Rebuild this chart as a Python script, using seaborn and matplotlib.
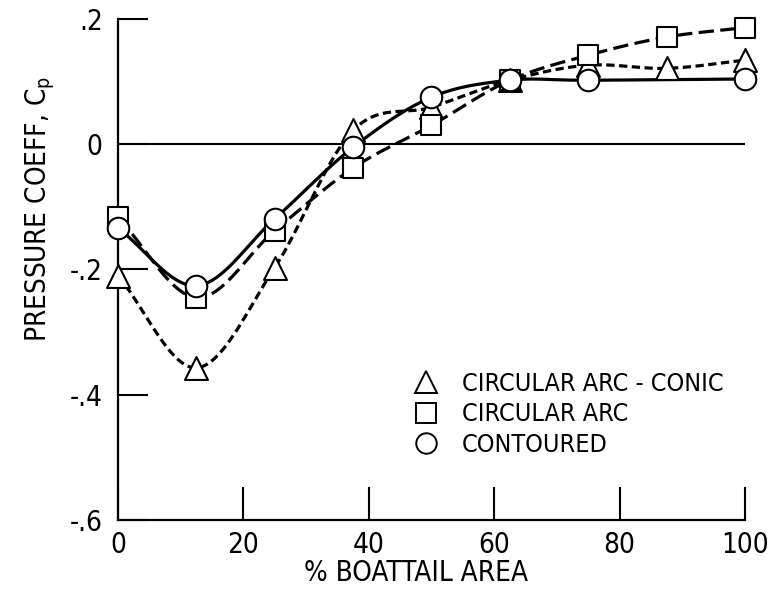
import numpy as np
import matplotlib
matplotlib.use("Agg")
import matplotlib.pyplot as plt
import seaborn as sns
from matplotlib.lines import Line2D

# Data
area_full = [0, 12.5, 25, 37.5, 50, 62.5, 75, 87.5, 100]
cp_conic = [-0.210, -0.357, -0.197, 0.022, 0.059, 0.102, 0.126, 0.121, 0.134]
cp_arc = [-0.117, -0.245, -0.138, -0.038, 0.030, 0.102, 0.142, 0.171, 0.186]
area_contoured = [0, 12.5, 25, 37.5, 50, 62.5, 75, 100]
cp_contoured = [-0.134, -0.226, -0.119, -0.005, 0.075, 0.102, 0.102, 0.104]

labels = ["CIRCULAR ARC - CONIC", "CIRCULAR ARC", "CONTOURED"]
x_ticks = [0, 20, 40, 60, 80, 100]
y_ticks = [0.2, 0, -0.2, -0.4, -0.6]
y_ticklabels = [".2", "0", "-.2", "-.4", "-.6"]


def faired(x, y, n=40):
    # Catmull-Rom fairing through the measured points (drawing only)
    p = np.column_stack([x, y]).astype(float)
    p = np.vstack([2 * p[0] - p[1], p, 2 * p[-1] - p[-2]])
    t = np.linspace(0, 1, n)[:, None]
    out = []
    for i in range(1, len(p) - 2):
        p0, p1, p2, p3 = p[i - 1], p[i], p[i + 1], p[i + 2]
        seg = 0.5 * ((2 * p1) + (-p0 + p2) * t
                     + (2 * p0 - 5 * p1 + 4 * p2 - p3) * t ** 2
                     + (-p0 + 3 * p1 - 3 * p2 + p3) * t ** 3)
        out.append(seg if i == 1 else seg[1:])
    out = np.vstack(out)
    return out[:, 0], out[:, 1]


sns.set_style("ticks")
plt.rcParams['font.family'] = ['DejaVu Sans']
plt.rcParams['font.stretch'] = 'condensed'
plt.rcParams['mathtext.default'] = 'regular'
plt.rcParams['text.color'] = 'black'
plt.rcParams['axes.labelcolor'] = 'black'
plt.rcParams['xtick.color'] = 'black'
plt.rcParams['ytick.color'] = 'black'

fig = plt.figure(figsize=(7.68, 5.89), dpi=100)
ax = fig.add_axes([0.1536, 0.117, 0.8164, 0.851])

series = [
    (area_full, cp_conic, "^", (0, (2.6, 1.4)), 16.5),
    (area_full, cp_arc, "s", (0, (4.8, 2.0)), 15),
    (area_contoured, cp_contoured, "o", "-", 15.5),
]

ax.axhline(0, color="black", lw=1.5, zorder=1)

for x, y, m, ls, ms in series:
    fx, fy = faired(x, y)
    ax.plot(fx, fy, color="black", lw=2.3, linestyle=ls, zorder=2,
            clip_on=False)

for (x, y, m, ls, ms) in series:
    sns.scatterplot(x=x, y=y, marker=m, s=ms ** 2, facecolor="white",
                    edgecolor="black", linewidth=1.5, ax=ax, zorder=3,
                    clip_on=False, legend=False)

ax.set_xlim(0, 100)
ax.set_ylim(-0.6, 0.2)
ax.set_xticks(x_ticks)
ax.set_yticks(y_ticks)
ax.set_yticklabels(y_ticklabels)
ax.tick_params(axis="x", direction="in", length=24, width=1.5, pad=8,
               labelsize=20)
ax.tick_params(axis="y", direction="in", length=21.5, width=1.5, pad=11,
               labelsize=20)
sns.despine(ax=ax)
for s in ["left", "bottom"]:
    ax.spines[s].set_linewidth(1.6)
    ax.spines[s].set_color("black")

ax.set_xlabel("% BOATTAIL AREA", fontsize=20)
ax.xaxis.set_label_coords(0.475, -0.078)
ax.set_ylabel("PRESSURE COEFF, C$_p$", fontsize=20)
ax.yaxis.set_label_coords(-0.097, 0.62)

handles = [Line2D([], [], marker=m, linestyle="none", markersize=ms * 0.95,
                  markerfacecolor="white", markeredgecolor="black",
                  markeredgewidth=1.4)
           for (_, _, m, _, ms) in series]
ax.legend(handles, labels, loc="upper left", bbox_to_anchor=(0.447, 0.32),
          frameon=False, fontsize=18, handletextpad=0.85, labelspacing=0.25,
          handlelength=1.2, borderpad=0)

fig.savefig("out.png", dpi=100)
